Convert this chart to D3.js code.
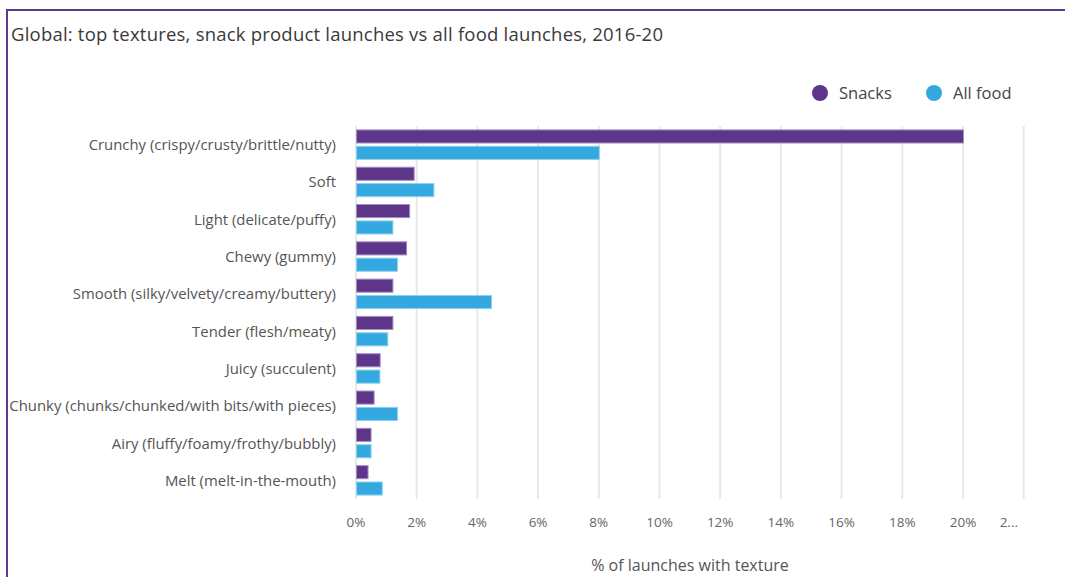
<!DOCTYPE html>
<html>
<head>
<meta charset="utf-8">
<script src="https://cdn.jsdelivr.net/npm/d3@7"></script>
<style>
  html, body { margin: 0; padding: 0; background: #fff; }
  svg { display: block; }
  text { font-family: "Open Sans", Roboto, sans-serif; }
</style>
</head>
<body>
<svg id="chart" width="1065" height="577"></svg>
<script>
const title = "Global: top textures, snack product launches vs all food launches, 2016-20";
const categories = [
  "Crunchy (crispy/crusty/brittle/nutty)",
  "Soft",
  "Light (delicate/puffy)",
  "Chewy (gummy)",
  "Smooth (silky/velvety/creamy/buttery)",
  "Tender (flesh/meaty)",
  "Juicy (succulent)",
  "Chunky (chunks/chunked/with bits/with pieces)",
  "Airy (fluffy/foamy/frothy/bubbly)",
  "Melt (melt-in-the-mouth)"
];
const seriesNames = ["Snacks", "All food"];
const snacks  = [20.0, 1.9, 1.75, 1.65, 1.2, 1.2, 0.78, 0.58, 0.48, 0.38];
const allFood = [8.0, 2.55, 1.2, 1.35, 4.45, 1.03, 0.77, 1.35, 0.48, 0.85];
const tickValues = [0, 2, 4, 6, 8, 10, 12, 14, 16, 18, 20, 22];
const axisTitle = "% of launches with texture";
const colors = ["#5E3689", "#33A9DF"];
const strokeColors = ["#A48CC4", "#8DD1F0"];

const svg = d3.select("#chart");

// helper: fit text to a target width by adjusting letter spacing
function fitWidth(sel, target) {
  sel.each(function() {
    const w = this.getComputedTextLength();
    const n = Math.max(1, this.textContent.length - 1);
    d3.select(this).attr("letter-spacing", ((target - w) / n).toFixed(3));
  });
}

// frame
svg.append("line").attr("x1", 6).attr("x2", 1065).attr("y1", 10).attr("y2", 10)
  .attr("stroke", "#5E3A8D").attr("stroke-width", 2);
svg.append("line").attr("x1", 7).attr("x2", 7).attr("y1", 9).attr("y2", 577)
  .attr("stroke", "#5E3A8D").attr("stroke-width", 2);

// title
svg.append("text").attr("x", 11).attr("y", 41)
  .attr("font-size", 18.5).attr("fill", "#3a3a3a").text(title)
  .call(fitWidth, 652);

const x = d3.scaleLinear().domain([0, 22]).range([356, 1023.7]);
const y0 = d3.scaleBand().domain(categories).range([126, 499]).padding(0);
const y1 = d3.scaleBand().domain(seriesNames).range([0, y0.bandwidth()])
  .paddingInner(0.2).paddingOuter(0.24);

// gridlines
svg.append("g").selectAll("line").data(tickValues).join("line")
  .attr("x1", d => x(d)).attr("x2", d => x(d))
  .attr("y1", 126).attr("y2", 499)
  .attr("stroke", "#E8E8E8").attr("stroke-width", 2);

// tick labels
const maxX = 1020;
const tl = svg.append("g").selectAll("text").data(tickValues).join("text")
  .attr("x", d => x(d)).attr("y", 527)
  .attr("text-anchor", "middle").attr("font-size", 13.5).attr("fill", "#666")
  .text(d => d + "%");
tl.each(function(d) {
  const t = d3.select(this);
  const w = this.getComputedTextLength();
  if (x(d) + w / 2 > maxX) {
    let s = t.text();
    while (s.length > 1) {
      s = s.slice(0, -1);
      t.text(s + "...");
      if (this.getComputedTextLength() <= 20) break;
    }
    t.attr("text-anchor", "end").attr("x", 1018);
  }
});

// category labels
svg.append("g").selectAll("text").data(categories).join("text")
  .attr("x", 336).attr("y", d => y0(d) + y0.bandwidth() / 2 + 5.5)
  .attr("text-anchor", "end").attr("font-size", 14.9).attr("fill", "#555")
  .text(d => d);

// bars
const rows = categories.map((c, i) => ({ c, vals: [snacks[i], allFood[i]] }));
const g = svg.append("g").selectAll("g").data(rows).join("g")
  .attr("transform", d => `translate(0,${y0(d.c)})`);
g.selectAll("rect").data(d => d.vals.map((v, j) => ({ v, s: seriesNames[j], j })))
  .join("rect")
  .attr("x", x(0) + 0.5)
  .attr("y", d => y1(d.s))
  .attr("width", d => x(d.v) - x(0))
  .attr("height", y1.bandwidth())
  .attr("fill", d => colors[d.j])
  .attr("stroke", d => strokeColors[d.j])
  .attr("stroke-width", 1);

// axis title
svg.append("text").attr("x", 690).attr("y", 571)
  .attr("text-anchor", "middle").attr("font-size", 16).attr("fill", "#555")
  .text(axisTitle);

// legend
const legendX = [820, 934];
const lg = svg.append("g").selectAll("g").data(seriesNames).join("g")
  .attr("transform", (d, i) => `translate(${legendX[i]},93)`);
lg.append("circle").attr("r", 8).attr("fill", (d, i) => colors[i]);
lg.append("text").attr("x", 19).attr("y", 6).attr("font-size", 16.5)
  .attr("fill", "#444").text(d => d);
</script>
</body>
</html>
